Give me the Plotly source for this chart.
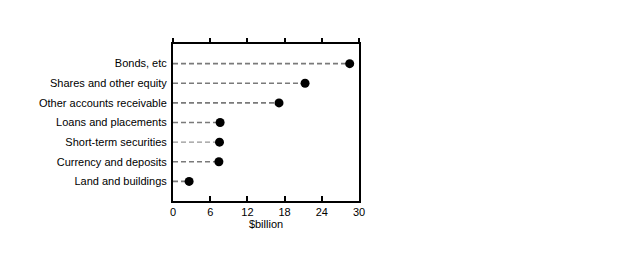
import plotly.graph_objects as go

categories = ["Bonds, etc", "Shares and other equity", "Other accounts receivable",
              "Loans and placements", "Short-term securities", "Currency and deposits",
              "Land and buildings"]
values = [28.5, 21.3, 17.1, 7.6, 7.5, 7.4, 2.6]
xticks = [0, 6, 12, 18, 24, 30]

positions = list(range(1, len(categories) + 1))

fig = go.Figure()
for i, (c, v) in enumerate(zip(categories, values)):
    thin = c == "Short-term securities"
    fig.add_trace(go.Scatter(
        x=[0, v], y=[positions[i], positions[i]], mode="lines",
        line=dict(color="#959595" if thin else "#7a7a7a", width=1.1 if thin else 1.7,
                  dash="5px,3px"),
        hoverinfo="skip", showlegend=False))
fig.add_trace(go.Scatter(
    x=values, y=positions, mode="markers",
    marker=dict(color="black", size=9), showlegend=False, cliponaxis=False))
# trace on top axis so it gets drawn
fig.add_trace(go.Scatter(x=values, y=positions, xaxis="x2", yaxis="y", mode="markers",
                         marker=dict(size=1, opacity=0), showlegend=False,
                         hoverinfo="skip"))

font = dict(family="Liberation Sans, Arial, sans-serif", size=11, color="black")
fig.update_layout(
    width=627, height=253,
    margin=dict(l=173, r=268, t=44, b=52),
    paper_bgcolor="white", plot_bgcolor="white",
    font=font,
    xaxis=dict(range=[0, 30], tickvals=xticks, ticks="inside", ticklen=5,
               tickwidth=1.5, tickcolor="black", showline=True, linecolor="black",
               linewidth=2, mirror=True, showgrid=False, zeroline=False,
               title=dict(text="$billion", font=font, standoff=3),
               tickfont=font),
    xaxis2=dict(range=[0, 30], tickmode="array", tickvals=xticks, overlaying="x",
                side="top", anchor="y", ticks="outside", ticklen=5, tickwidth=1.5,
                tickcolor="black", showticklabels=False, showline=False,
                showgrid=False, zeroline=False, visible=True),
    yaxis=dict(range=[8, 0], tickvals=positions, ticktext=categories,
               ticks="", showline=True, linecolor="black", linewidth=2,
               mirror=True, showgrid=False, zeroline=False, ticklabelstandoff=2,
               tickfont=font),
)
fig.write_html("out.html")
